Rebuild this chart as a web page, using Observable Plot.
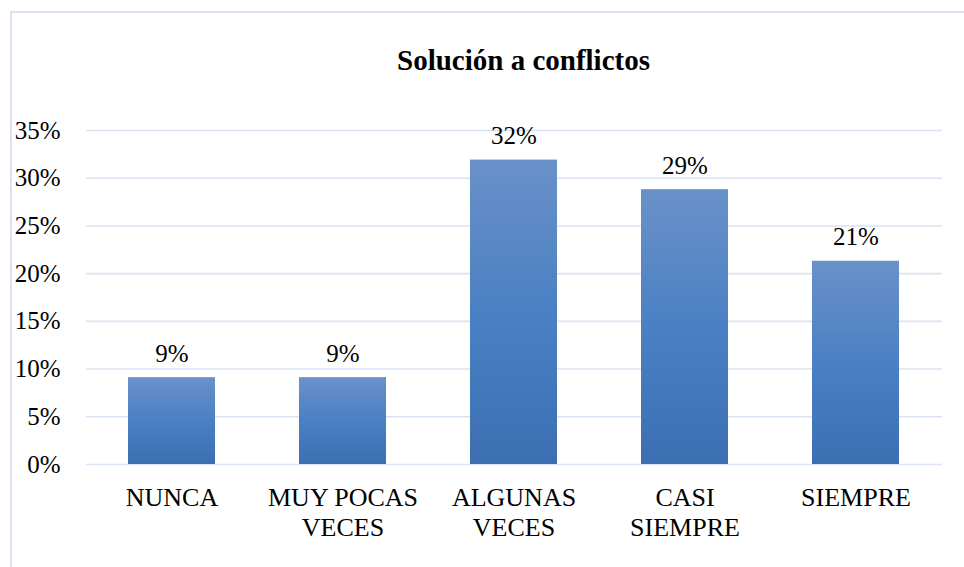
<!DOCTYPE html>
<html>
<head>
<meta charset="utf-8">
<script src="https://cdn.jsdelivr.net/npm/d3@7"></script>
<script src="https://cdn.jsdelivr.net/npm/@observablehq/plot@0.6"></script>
<style>
  html, body { margin: 0; padding: 0; background: #fff; }
  body { width: 964px; height: 567px; overflow: hidden; position: relative; font-family: "Liberation Serif", "Times New Roman", serif; }
  #frame { position: absolute; left: 10px; top: 11px; width: 1000px; height: 600px; border: 2px solid #d9e3f3; box-sizing: border-box; }
  #title { position: absolute; left: 0; top: 46px; width: 1047px; text-align: center; font-size: 29px; line-height: 1; font-weight: bold; color: #000; margin: 0; }
  #chart { position: absolute; left: 0; top: 90px; }
  #chart svg text, #chart svg tspan { font-family: "Liberation Serif", serif !important; }
</style>
</head>
<body>
<div id="frame"></div>
<h1 id="title">Solución a conflictos</h1>
<div id="chart"></div>
<script>
const categories = ["NUNCA", "MUY POCAS VECES", "ALGUNAS VECES", "CASI SIEMPRE", "SIEMPRE"];
const xTickLabels = ["NUNCA", "MUY POCAS\nVECES", "ALGUNAS\nVECES", "CASI\nSIEMPRE", "SIEMPRE"];
const values = [9.1, 9.1, 31.9, 28.8, 21.3];
const valueLabels = ["9%", "9%", "32%", "29%", "21%"];
const yTicks = [0, 5, 10, 15, 20, 25, 30, 35];
const yTickLabels = ["0%", "5%", "10%", "15%", "20%", "25%", "30%", "35%"];

const data = categories.map((c, i) => ({category: c, value: values[i], label: valueLabels[i]}));
const serif = "Liberation Serif";

const chart = Plot.plot({
  width: 964,
  height: 477,
  marginTop: 40,
  marginBottom: 103,
  marginLeft: 86,
  marginRight: 22,
  style: {fontFamily: serif, fontSize: "25px", color: "#000", background: "transparent", overflow: "visible"},
  x: {domain: categories, paddingInner: 0.49, paddingOuter: 0.245, label: null},
  y: {domain: [0, 35], label: null},
  marks: [
    Plot.ruleY(yTicks, {stroke: "#d9e3f3", strokeWidth: 1.6}),
    Plot.barY(data, {x: "category", y: "value", fill: "url(#barGrad)"}),
    Plot.text(data, {x: "category", y: "value", text: "label", dy: -24, fontSize: 25, fontFamily: serif, fill: "#000"}),
    Plot.axisY(yTicks, {tickSize: 0, tickPadding: 26, fontSize: 25, fontFamily: serif, tickFormat: (d, i) => yTickLabels[i], label: null}),
    Plot.axisX(categories, {tickSize: 0, tickPadding: 20, fontSize: 26, fontFamily: serif, lineHeight: 1.15, tickFormat: (d) => xTickLabels[categories.indexOf(d)], label: null})
  ]
});

d3.select(chart).attr("font-family", serif);
d3.select(chart).selectAll("g, text, tspan").attr("font-family", serif).style("font-family", serif);

d3.select(chart).insert("defs", ":first-child").html(
  '<linearGradient id="barGrad" x1="0" y1="0" x2="0" y2="1">' +
  '<stop offset="0%" stop-color="#6a91c9"/>' +
  '<stop offset="50%" stop-color="#4a80c4"/>' +
  '<stop offset="100%" stop-color="#3c6fb2"/>' +
  '</linearGradient>'
);

document.getElementById("chart").appendChild(chart);
</script>
</body>
</html>
